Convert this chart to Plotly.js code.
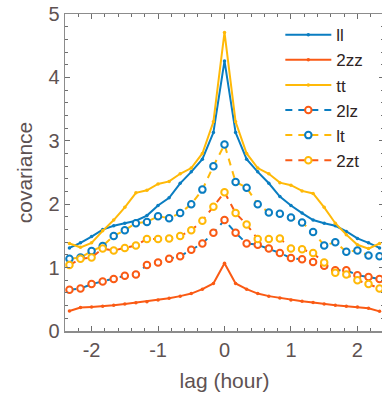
<!DOCTYPE html>
<html>
<head>
<meta charset="utf-8">
<script src="https://cdn.plot.ly/plotly-3.0.1.min.js"></script>
<style>
html,body{margin:0;padding:0;overflow:hidden;background:#fff;width:382px;height:398px;}
#chart{width:386px;height:398px;}
</style>
</head>
<body>
<div id="chart"></div>
<script>
// lag in hours (10-minute steps)
var lag = [-2.333,-2.167,-2,-1.833,-1.667,-1.5,-1.333,-1.167,-1,-0.833,-0.667,-0.5,-0.333,-0.167,0,
           0.167,0.333,0.5,0.667,0.833,1,1.167,1.333,1.5,1.667,1.833,2,2.167,2.333];

var ll  = [1.31,1.39,1.49,1.60,1.66,1.70,1.74,1.82,1.98,2.10,2.33,2.51,2.71,3.13,4.26,
           3.13,2.71,2.51,2.33,2.12,1.98,1.86,1.75,1.70,1.66,1.57,1.46,1.39,1.31];
var zz2 = [0.315,0.37,0.38,0.39,0.405,0.425,0.447,0.46,0.49,0.515,0.55,0.59,0.66,0.75,1.07,
           0.75,0.66,0.59,0.55,0.52,0.49,0.47,0.45,0.425,0.405,0.39,0.38,0.36,0.31];
var tt  = [1.38,1.32,1.39,1.58,1.75,1.95,2.18,2.22,2.32,2.36,2.48,2.57,2.80,3.30,4.71,
           3.30,2.80,2.57,2.48,2.34,2.30,2.21,2.17,1.95,1.70,1.52,1.36,1.30,1.38];
var lz2 = [0.65,0.67,0.74,0.78,0.82,0.87,0.89,1.04,1.08,1.14,1.18,1.28,1.38,1.55,1.75,
           1.55,1.38,1.36,1.30,1.23,1.15,1.13,1.09,1.03,0.96,0.96,0.88,0.85,0.82];
var lt  = [1.14,1.16,1.26,1.34,1.50,1.59,1.70,1.72,1.81,1.78,1.86,2.00,2.23,2.60,2.94,
           2.35,2.26,2.00,1.87,1.85,1.79,1.71,1.56,1.35,1.40,1.25,1.27,1.19,1.18];
var zt2 = [1.04,1.14,1.16,1.30,1.27,1.31,1.35,1.45,1.45,1.46,1.50,1.59,1.74,1.96,2.19,
           1.86,1.68,1.45,1.45,1.46,1.30,1.29,1.23,1.08,0.92,0.89,0.80,0.74,0.67];

var seriesNames = ['ll','2zz','tt','2lz','lt','2zt'];
var xTickVals = [-2,-1,0,1,2];
var yTickVals = [0,1,2,3,4,5];

var BLUE = '#0A7DC1', ORANGE = '#FA5A14', YELLOW = '#FFB908';

function solid(y, name, c){
  return {x: lag, y: y, name: name, type: 'scatter', mode: 'lines+markers',
    line: {color: c, width: 2},
    marker: {color: c, size: 3.5, symbol: 'circle'}};
}
function dashed(y, name, lc, mc){
  return {x: lag, y: y, name: name, type: 'scatter', mode: 'lines+markers',
    line: {color: lc, width: 2, dash: '7px,6px'},
    marker: {color: '#ffffff', size: 6.5, symbol: 'circle', line: {color: mc, width: 2}}};
}

var data = [
  solid(ll, seriesNames[0], BLUE),
  solid(zz2, seriesNames[1], ORANGE),
  solid(tt, seriesNames[2], YELLOW),
  dashed(lz2, seriesNames[3], BLUE, ORANGE),
  dashed(lt, seriesNames[4], YELLOW, BLUE),
  dashed(zt2, seriesNames[5], ORANGE, YELLOW)
];

var tickFont = {family: 'Liberation Sans, Arial, sans-serif', size: 20, color: '#5e5252'};
var axisCommon = {
  showline: true, linecolor: '#8c8c8c', linewidth: 1.5, mirror: 'ticks',
  ticks: 'inside', ticklen: 5, tickcolor: '#6e6e6e', tickwidth: 1,
  showgrid: false, zeroline: false, tickfont: tickFont
};

var layout = {
  width: 386, height: 398,
  margin: {l: 65, r: 2, t: 14, b: 67},
  paper_bgcolor: '#ffffff', plot_bgcolor: '#ffffff',
  showlegend: true,
  legend: {x: 0.675, y: 0.99, xanchor: 'left', yanchor: 'top',
    bgcolor: 'rgba(0,0,0,0)', borderwidth: 0, itemwidth: 46, tracegroupgap: 0,
    font: {family: 'Liberation Sans, Arial, sans-serif', size: 17, color: '#2e2424'}},
  xaxis: Object.assign({}, axisCommon, {
    range: [-2.4, 2.4], tickvals: xTickVals, ticktext: xTickVals.map(String),
    minor: {dtick: 0.2, ticks: 'inside', ticklen: 3, tickcolor: '#6e6e6e'},
    title: {text: 'lag (hour)', standoff: 14,
      font: {family: 'Liberation Sans, Arial, sans-serif', size: 21, color: '#5e5252'}}
  }),
  yaxis: Object.assign({}, axisCommon, {
    range: [0, 5], tickvals: yTickVals, ticktext: yTickVals.map(String),
    minor: {dtick: 0.2, ticks: 'inside', ticklen: 3, tickcolor: '#6e6e6e'},
    title: {text: 'covariance', standoff: 10,
      font: {family: 'Liberation Sans, Arial, sans-serif', size: 21, color: '#5e5252'}}
  })
};

Plotly.newPlot('chart', data, layout, {displayModeBar: false, staticPlot: true});
</script>
</body>
</html>
